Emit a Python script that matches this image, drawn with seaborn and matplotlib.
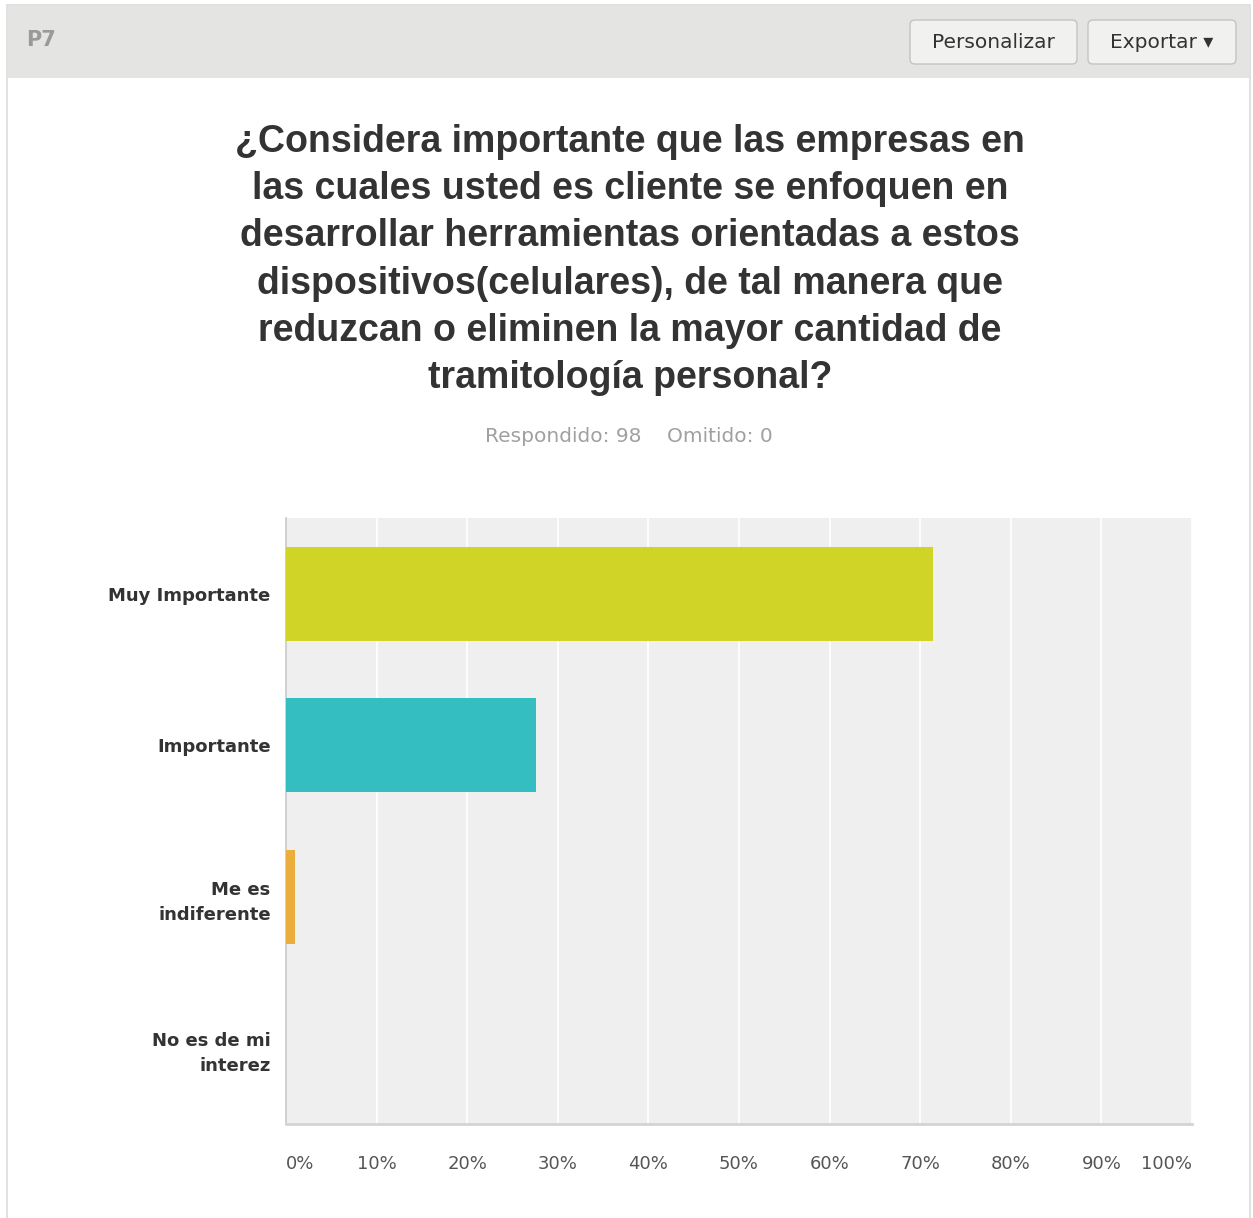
import matplotlib
matplotlib.use("Agg")
import matplotlib.pyplot as plt
from matplotlib import font_manager
from matplotlib.patches import FancyBboxPatch, Rectangle
import seaborn as sns
import pandas as pd

categories = ["Muy Importante", "Importante", "Me es\nindiferente", "No es de mi\ninterez"]
percentages = [71.43, 27.55, 1.02, 0.0]
bar_colors = ["#d0d427", "#35bec1", "#ebad3c", "#8a8ac0"]
tick_values = [0, 10, 20, 30, 40, 50, 60, 70, 80, 90, 100]
tick_labels = [f"{v}%" for v in tick_values]

question = ("¿Considera importante que las empresas en\n"
            "las cuales usted es cliente se enfoquen en\n"
            "desarrollar herramientas orientadas a estos\n"
            "dispositivos(celulares), de tal manera que\n"
            "reduzcan o eliminen la mayor cantidad de\n"
            "tramitología personal?")
answered_text = "Respondido: 98    Omitido: 0"

sns.set_theme(style="white")
plt.rcParams["font.family"] = ["Liberation Sans", "DejaVu Sans"]
ui_font = ["DejaVu Sans"]

# regular-width bold sans for the question heading
title_fp = None
for path in font_manager.findSystemFonts():
    if path.endswith("LiberationSans-Bold.ttf"):
        title_fp = font_manager.FontProperties(fname=path, size=27)
        break
if title_fp is None:
    title_fp = font_manager.FontProperties(family="DejaVu Sans", weight="bold", size=24)

W, H = 1253, 1218
fig = plt.figure(figsize=(W / 100, H / 100), dpi=100)
fig.patch.set_facecolor("white")

def fx(x):
    return x / W

def fy(y):
    return 1 - y / H

# card outline and header band, kept behind the axes
fig.patches.append(Rectangle((fx(7), fy(1230)), fx(1250) - fx(7), fy(5) - fy(1230),
                             transform=fig.transFigure, facecolor="white",
                             edgecolor="#dcdcdc", linewidth=1.2, zorder=-3))
fig.patches.append(Rectangle((fx(8), fy(78)), fx(1249) - fx(8), fy(6) - fy(78),
                             transform=fig.transFigure, facecolor="#e4e4e3",
                             edgecolor="none", zorder=-2))
fig.text(fx(26), fy(40), "P7", fontsize=15, fontweight="bold", color="#9a9a9a",
         ha="left", va="center", family=ui_font)

for x0, x1, label in [(910, 1077, "Personalizar"), (1088, 1236, "Exportar \u25be")]:
    fig.patches.append(FancyBboxPatch((fx(x0), fy(64)), fx(x1) - fx(x0), fy(20) - fy(64),
                                      boxstyle="round,pad=0,rounding_size=0.004",
                                      transform=fig.transFigure, facecolor="#f1f1ef",
                                      edgecolor="#c4c4c2", linewidth=1.0, zorder=2))
    fig.text(fx((x0 + x1) / 2), fy(42), label, fontsize=14.5, color="#333333",
             ha="center", va="center", zorder=3, family=ui_font)

fig.text(fx(630), fy(124), question, fontproperties=title_fp, color="#333333",
         ha="center", va="top", linespacing=1.40)
fig.text(fx(629), fy(437), answered_text, fontsize=14.5, color="#a0a0a0",
         ha="center", va="center", family=ui_font)

ax = fig.add_axes([fx(286), fy(1124), fx(1192) - fx(286), fy(518) - fy(1124)])
ax.set_facecolor("#efefef")

df = pd.DataFrame({"respuesta": categories, "porcentaje": percentages})
sns.barplot(data=df, x="porcentaje", y="respuesta", hue="respuesta",
            palette=bar_colors, orient="h", width=0.62, legend=False,
            saturation=1, linewidth=0, ax=ax, zorder=3)

ax.set_xlim(0, 100)
ax.set_ylim(3.5, -0.5)
ax.set_xticks(tick_values)
ax.set_xticklabels(tick_labels, fontsize=13, color="#555555", family=ui_font)
for i, lbl in enumerate(ax.get_xticklabels()):
    if i == 0:
        lbl.set_horizontalalignment("left")
    elif i == len(tick_values) - 1:
        lbl.set_horizontalalignment("right")
ax.tick_params(axis="x", length=0, pad=22)
ax.tick_params(axis="y", length=0, pad=11)
for lbl in ax.get_yticklabels():
    lbl.set_fontsize(13)
    lbl.set_fontweight("bold")
    lbl.set_color("#333333")
    lbl.set_family(ui_font)
    lbl.set_multialignment("right")
    lbl.set_linespacing(1.5)

ax.grid(axis="x", color="white", linewidth=1.2, zorder=0)
ax.set_axisbelow(True)
ax.set_xlabel("")
ax.set_ylabel("")
for side in ["top", "right"]:
    ax.spines[side].set_visible(False)
ax.spines["left"].set_color("#c8c8c8")
ax.spines["bottom"].set_color("#d4d4d4")
ax.spines["left"].set_linewidth(1.2)
ax.spines["bottom"].set_linewidth(2)

fig.savefig("out.png", dpi=100, facecolor="white")
